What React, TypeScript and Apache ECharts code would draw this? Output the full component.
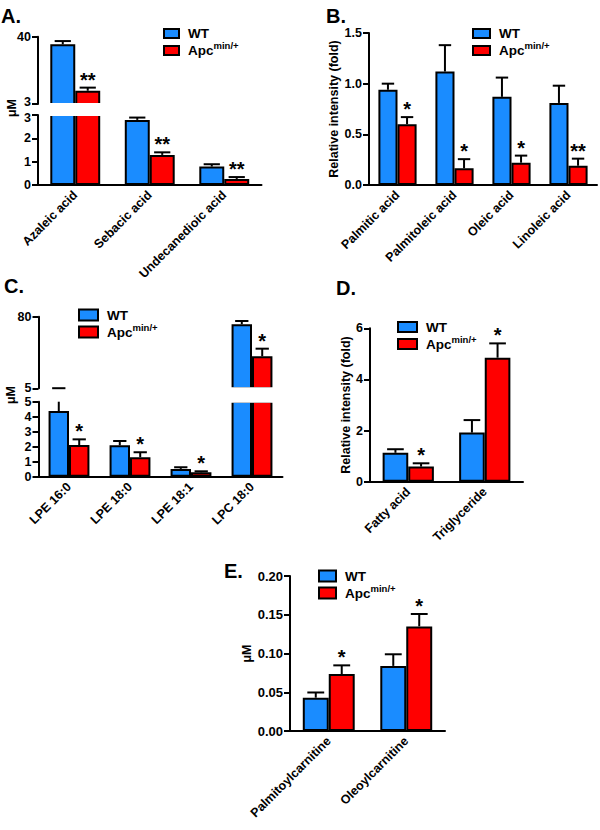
import React, { useEffect, useRef } from 'react';
import * as echarts from 'echarts';

// ---------- data ----------
const catsA = ['Azaleic acid', 'Sebacic acid', 'Undecanedioic acid'];
const wtA = [35.8, 2.79, 0.79];
const wtErrA = [1.8, 0.1, 0.1];
const apcA = [10.3, 1.29, 0.26];
const apcErrA = [1.7, 0.11, 0.08];
const starsA = ['**', '**', '**'];
const ticksAHigh = [3, 40];
const ticksALow = [0, 1, 2, 3];

const catsB = ['Palmitic acid', 'Palmitoleic acid', 'Oleic acid', 'Linoleic acid'];
const wtB = [0.94, 1.12, 0.87, 0.81];
const wtErrB = [0.06, 0.26, 0.19, 0.17];
const apcB = [0.6, 0.165, 0.22, 0.19];
const apcErrB = [0.07, 0.09, 0.07, 0.07];
const starsB = ['*', '*', '*', '**'];
const ticksB = [0, 0.5, 1.0, 1.5];

const catsC = ['LPE 16:0', 'LPE 18:0', 'LPE 18:1', 'LPC 18:0'];
const wtC = [4.38, 2.09, 0.52, 72.1];
const wtErrC = [0.72, 0.29, 0.11, 3.4];
const apcC = [2.11, 1.3, 0.29, 38.5];
const apcErrC = [0.38, 0.33, 0.07, 8.0];
const starsC = ['*', '*', '*', '*'];
const ticksCHigh = [5, 80];
const ticksCLow = [0, 1, 2, 3, 4, 5];

const catsD = ['Fatty acid', 'Triglyceride'];
const wtD = [1.13, 1.92];
const wtErrD = [0.14, 0.49];
const apcD = [0.59, 4.85];
const apcErrD = [0.13, 0.56];
const starsD = ['*', '*'];
const ticksD = [0, 2, 4, 6];

const catsE = ['Palmitoylcarnitine', 'Oleoylcarnitine'];
const wtE = [0.043, 0.084];
const wtErrE = [0.0067, 0.015];
const apcE = [0.0735, 0.135];
const apcErrE = [0.0112, 0.016];
const starsE = ['*', '*'];
const ticksE = [0, 0.05, 0.1, 0.15, 0.2];

const seriesNames = ['WT', 'Apc'];
const FONT = '"Liberation Sans", Arial, Helvetica, sans-serif';
const BLUE = '#1a8cff';
const RED = '#ff0000';
const GAP = 0.33;

// ---------- layout of segments ----------
type Seg = {
  cats: string[]; wt: number[]; wtErr: number[]; apc: number[]; apcErr: number[]; stars: string[];
  min: number; max: number; ticks: number[]; showX: boolean; grid: any; fs: number; dec: number;
  name?: string; nameGap?: number; breakVal?: number; shift?: number;
};

const segs: Seg[] = [
  { cats: catsA, wt: wtA, wtErr: wtErrA, apc: apcA, apcErr: apcErrA, stars: starsA, min: 3, max: 40, ticks: ticksAHigh, showX: false, grid: { left: 38, top: 36.7, width: 223.5, height: 67.3 }, fs: 12.5, dec: 0, breakVal: 3, shift: -1 },
  { cats: catsA, wt: wtA, wtErr: wtErrA, apc: apcA, apcErr: apcErrA, stars: starsA, min: 0, max: 3, ticks: ticksALow, showX: true, grid: { left: 38, top: 115, width: 223.5, height: 70 }, fs: 12.5, dec: 0, breakVal: 3, shift: 1 },
  { cats: catsB, wt: wtB, wtErr: wtErrB, apc: apcB, apcErr: apcErrB, stars: starsB, min: 0, max: 1.5, ticks: ticksB, showX: true, grid: { left: 369, top: 33, width: 228, height: 152 }, fs: 12.5, dec: 1, name: 'Relative intensity (fold)', nameGap: 28 },
  { cats: catsC, wt: wtC, wtErr: wtErrC, apc: apcC, apcErr: apcErrC, stars: starsC, min: 5, max: 80, ticks: ticksCHigh, showX: false, grid: { left: 38.5, top: 316.7, width: 244, height: 71.6 }, fs: 12.5, dec: 0 },
  { cats: catsC, wt: wtC, wtErr: wtErrC, apc: apcC, apcErr: apcErrC, stars: starsC, min: 0, max: 5, ticks: ticksCLow, showX: true, grid: { left: 38.5, top: 401.7, width: 244, height: 75 }, fs: 12.5, dec: 0 },
  { cats: catsD, wt: wtD, wtErr: wtErrD, apc: apcD, apcErr: apcErrD, stars: starsD, min: 0, max: 6, ticks: ticksD, showX: true, grid: { left: 370, top: 328.3, width: 153, height: 153.4 }, fs: 12.5, dec: 0, name: 'Relative intensity (fold)', nameGap: 16 },
  { cats: catsE, wt: wtE, wtErr: wtErrE, apc: apcE, apcErr: apcErrE, stars: starsE, min: 0, max: 0.2, ticks: ticksE, showX: true, grid: { left: 290, top: 576, width: 155, height: 155 }, fs: 13, dec: 2, name: 'μM', nameGap: 36 },
];

const legends = [
  { left: 163, top: 26.5, w: 15, h: 9 },
  { left: 472, top: 26.5, w: 17, h: 9 },
  { left: 78, top: 308, w: 19, h: 11 },
  { left: 397, top: 320, w: 19, h: 10 },
  { left: 318, top: 569, w: 17, h: 11 },
];

const panelLabels = [
  { text: 'A.', left: 1, top: 6 },
  { text: 'B.', left: 326, top: 6 },
  { text: 'C.', left: 4, top: 276 },
  { text: 'D.', left: 336, top: 278 },
  { text: 'E.', left: 224, top: 561 },
];

function errSeries(idx: number, means: number[], errs: number[], stars: string[] | null, side: number, segMin: number, segMax: number) {
  return {
    type: 'custom',
    xAxisIndex: idx,
    yAxisIndex: idx,
    z: 5,
    silent: true,
    data: means.map((m, i) => [i, m, errs[i]]),
    renderItem: (params: any, api: any) => {
      const i = api.value(0) as number;
      const m = api.value(1) as number;
      const e = api.value(2) as number;
      const top = m + e;
      if (top <= segMin || m >= segMax) return { type: 'group', children: [] };
      const band = api.size([1, 0])[0];
      const bw = (band * (1 - GAP)) / 2;
      const cx = api.coord([i, segMin])[0] + (side * bw) / 2;
      const lo = Math.max(m, segMin);
      const hi = Math.min(top, segMax);
      const yLo = api.coord([i, lo])[1];
      const yHi = api.coord([i, hi])[1];
      const children: any[] = [
        { type: 'line', shape: { x1: cx, y1: yLo, x2: cx, y2: yHi }, style: { stroke: '#000', lineWidth: 2 } },
      ];
      if (top <= segMax) {
        const cw = bw * 0.65;
        children.push({ type: 'line', shape: { x1: cx - cw / 2, y1: yHi, x2: cx + cw / 2, y2: yHi }, style: { stroke: '#000', lineWidth: 2 } });
        const st = stars ? stars[params.dataIndex] : '';
        if (st) {
          children.push({
            type: 'text', x: cx, y: yHi - 8,
            style: { text: st, fill: '#000', fontSize: 20, fontWeight: 'bold', fontFamily: FONT, align: 'center', verticalAlign: 'middle', textAlign: 'center', textVerticalAlign: 'middle' },
          });
        }
      }
      return { type: 'group', children };
    },
  };
}

function buildOption() {
  const grid = segs.map((s) => ({ ...s.grid, outerBoundsMode: 'none', containLabel: false }));
  const xAxis = segs.map((s, idx) => ({
    type: 'category',
    gridIndex: idx,
    data: s.cats,
    show: s.showX,
    axisLine: { lineStyle: { color: '#000', width: 2 } },
    axisTick: { alignWithLabel: true, length: 5, lineStyle: { color: '#000', width: 2 } },
    axisLabel: { interval: 0, rotate: 45, margin: 8, color: '#000', fontWeight: 'bold', fontSize: 12.5, fontFamily: FONT },
    splitLine: { show: false },
  }));
  const yAxis = segs.map((s, idx) => {
    const sh = s.shift || 0;
    const labelFont = { color: '#000', fontWeight: 'bold', fontSize: s.fs, fontFamily: FONT };
    return {
      type: 'value',
      gridIndex: idx,
      min: s.min,
      max: s.max,
      name: s.name || '',
      nameLocation: 'middle',
      nameRotate: 90,
      nameGap: s.nameGap || 0,
      nameTextStyle: { color: '#000', fontWeight: 'bold', fontSize: 12.5, fontFamily: FONT },
      axisLine: { show: true, lineStyle: { color: '#000', width: 2 } },
      axisTick: { show: true, length: 6, customValues: s.ticks, lineStyle: { color: '#000', width: 2 } },
      axisLabel: {
        customValues: s.ticks,
        margin: 7,
        ...labelFont,
        // the value at the axis break is nudged away from its twin on the other segment
        formatter: (v: number) =>
          s.breakVal !== undefined && v === s.breakVal && sh !== 0 ? '{b|' + v.toFixed(s.dec) + '}' : v.toFixed(s.dec),
        rich: {
          b: { ...labelFont, lineHeight: 12, padding: sh < 0 ? [0, 0, 4, 0] : [6, 0, 0, 0] },
        },
      },
      splitLine: { show: false },
    };
  });
  const series: any[] = [];
  segs.forEach((s, idx) => {
    series.push({
      type: 'bar', name: seriesNames[0], xAxisIndex: idx, yAxisIndex: idx, data: s.wt,
      barGap: '0%', barCategoryGap: GAP * 100 + '%', clip: true, z: 2,
      itemStyle: { color: BLUE, borderColor: '#000', borderWidth: 2 },
    });
    series.push({
      type: 'bar', name: seriesNames[1], xAxisIndex: idx, yAxisIndex: idx, data: s.apc,
      barGap: '0%', barCategoryGap: GAP * 100 + '%', clip: true, z: 2,
      itemStyle: { color: RED, borderColor: '#000', borderWidth: 2 },
    });
    series.push(errSeries(idx, s.wt, s.wtErr, null, -1, s.min, s.max));
    series.push(errSeries(idx, s.apc, s.apcErr, s.stars, 1, s.min, s.max));
  });

  const legend = legends.map((l) => ({
    left: l.left, top: l.top, orient: 'vertical', padding: 0, itemGap: 0,
    itemWidth: l.w, itemHeight: l.h, icon: 'rect', selectedMode: false,
    data: seriesNames,
    itemStyle: { borderColor: '#000', borderWidth: 2 },
    formatter: (n: string) => (n === 'WT' ? '{w|WT}' : '{a|Apc}{s|min/+}'),
    textStyle: {
      rich: {
        w: { fontSize: 13.5, fontWeight: 'bold', fontFamily: FONT, color: '#000', lineHeight: 16, padding: [0, 0, 0, 4] },
        a: { fontSize: 13.5, fontWeight: 'bold', fontFamily: FONT, color: '#000', lineHeight: 20, padding: [0, 0, 0, 4] },
        s: { fontSize: 9.5, fontWeight: 'bold', fontFamily: FONT, color: '#000', lineHeight: 10, verticalAlign: 'top' },
      },
    },
  }));

  const title = panelLabels.map((p) => ({
    text: p.text, left: p.left, top: p.top, padding: 0,
    textStyle: { fontSize: 20, fontWeight: 'bold', fontFamily: FONT, color: '#000' },
  }));

  // break covers (white gap across the bars) + rotated unit labels for broken axes
  const gA = segs[0].grid, gA2 = segs[1].grid, gC = segs[3].grid, gC2 = segs[4].grid;
  const graphic = [
    { type: 'rect', z: 3, silent: true, shape: { x: gA.left + 1.5, y: gA.top + gA.height - 1, width: gA.width, height: gA2.top - (gA.top + gA.height) + 2 }, style: { fill: '#fff' } },
    { type: 'rect', z: 3, silent: true, shape: { x: gC.left + 1.5, y: gC.top + gC.height - 1, width: gC.width, height: gC2.top - (gC.top + gC.height) + 2 }, style: { fill: '#fff' } },
    { type: 'text', x: 12, y: 108, rotation: Math.PI / 2, style: { text: 'μM', fill: '#000', fontSize: 12.5, fontWeight: 'bold', fontFamily: FONT, align: 'center', verticalAlign: 'middle', textAlign: 'center', textVerticalAlign: 'middle' } },
    { type: 'text', x: 11, y: 395, rotation: Math.PI / 2, style: { text: 'μM', fill: '#000', fontSize: 12.5, fontWeight: 'bold', fontFamily: FONT, align: 'center', verticalAlign: 'middle', textAlign: 'center', textVerticalAlign: 'middle' } },
  ];

  return { animation: false, backgroundColor: '#fff', title, legend, grid, xAxis, yAxis, series, graphic };
}

export default function App() {
  const ref = useRef<HTMLDivElement>(null);
  useEffect(() => {
    document.body.style.margin = '0';
    if (!ref.current) return;
    const chart = echarts.init(ref.current, null, { renderer: 'svg' });
    chart.setOption(buildOption() as any);
    return () => chart.dispose();
  }, []);
  return <div ref={ref} style={{ width: 600, height: 830 }} />;
}
